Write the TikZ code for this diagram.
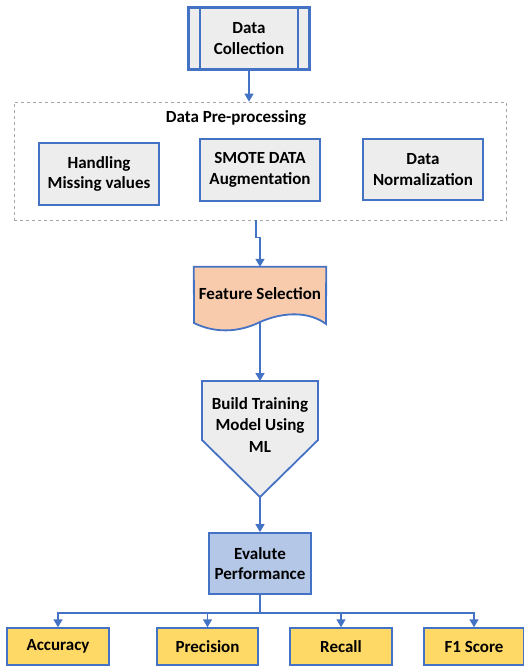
\documentclass[tikz,border=0pt]{standalone}
\usepackage{fontspec}
\setmainfont{Carlito}
\usetikzlibrary{arrows.meta}
\definecolor{lineblue}{HTML}{4472C4}
\definecolor{boxgray}{HTML}{EDEDED}
\definecolor{peach}{HTML}{F8CBAD}
\definecolor{evalblue}{HTML}{B4C7E7}
\definecolor{gold}{HTML}{FFD966}
\tikzset{
  txt/.style={font=\fontsize{17}{20.5}\selectfont\bfseries, align=center},
  graybox/.style={txt, draw=lineblue, line width=1.8pt, fill=boxgray, minimum width=120pt, minimum height=62pt, inner sep=0pt},
  metricbox/.style={txt, draw=lineblue, line width=1.5pt, fill=gold, minimum width=102pt, minimum height=37pt, inner sep=0pt},
  conn/.style={draw=lineblue, line width=1.6pt, -{Triangle[width=9pt,length=8pt]}},
}
\begin{document}
\begin{tikzpicture}[x=1pt,y=-1pt]
\useasboundingbox (0,0) rectangle (523,669);

% data collection
\node[graybox, line width=2.6pt, minimum width=121pt, minimum height=62pt] (dc) at (249,38.5) {Data\\Collection};
\draw[lineblue, line width=2pt] ([xshift=13pt]dc.north west) -- ([xshift=13pt]dc.south west);
\draw[lineblue, line width=2pt] ([xshift=-13pt]dc.north east) -- ([xshift=-13pt]dc.south east);

% pre-processing
\node[draw=gray!70, dashed, line width=0.8pt, minimum width=492pt, minimum height=118pt] (pre) at (260,161) {};
\node[txt] (pretitle) at (236,118) {Data Pre-processing};
\node[graybox] (miss) at (99,174) {Handling\\Missing values};
\node[graybox] (smote) at (260,170) {SMOTE DATA\\Augmentation};
\node[graybox, minimum height=61pt] (norm) at (423,169.5) {Data\\Normalization};

% feature selection (document shape)
\node[txt, minimum width=132pt, minimum height=54pt, inner sep=0pt] (feat) at (260,294) {Feature Selection};
\draw[lineblue, line width=1.8pt, fill=peach] (feat.north west) -- (feat.north east) -- (326,324)
  .. controls (310,312) and (285,311) .. (260,322)
  .. controls (238,333) and (214,333) .. (194,323) -- cycle;
\node[txt] at (feat) {Feature Selection};
\coordinate (featb) at (260,322);

% build model (pentagon)
\draw[lineblue, line width=1.8pt, fill=boxgray] (202,381) -- (318,381) -- (318,440) -- (260,497) -- (202,440) -- cycle;
\node[txt, font=\fontsize{17}{21.5}\selectfont\bfseries] (build) at (260,425) {Build Training\\Model Using\\ML};
\coordinate (buildtop) at (260,381);
\coordinate (buildtip) at (260,497);

% evaluation
\node[graybox, fill=evalblue, minimum width=102pt, minimum height=61pt] (eval) at (260,563.5) {Evalute\\Performance};

% metrics
\node[metricbox] (acc) at (58,646.5) {Accuracy};
\node[metricbox, minimum width=101pt] (prec) at (207.5,646.5) {Precision};
\node[metricbox] (rec) at (341,646.5) {Recall};
\node[metricbox, minimum width=100pt] (f1) at (474,646.5) {F1 Score};

% connectors
\draw[conn] (dc.south) -- (dc.south |- pre.north);
\draw[conn] ([xshift=-4pt]pre.south) -- ++(0,17) -| (feat.north);
\draw[conn] (featb) -- (buildtop);
\draw[conn] (buildtip) -- (eval.north);
\coordinate (split) at ([yshift=-18pt]eval.south);
\draw[lineblue, line width=1.6pt] (eval.south) -- (split);
\foreach \m in {acc,prec,rec,f1}
  \draw[conn] (split) -| (\m.north);
\end{tikzpicture}
\end{document}
